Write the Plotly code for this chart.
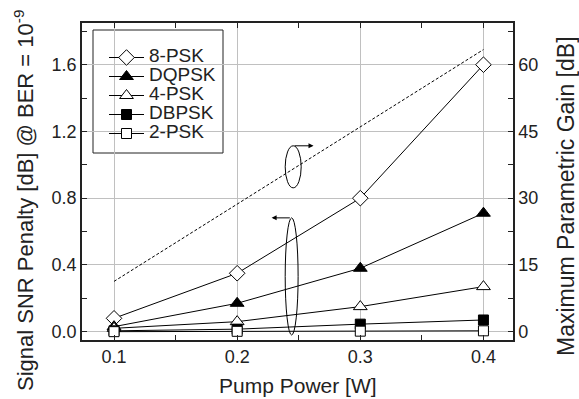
import plotly.graph_objects as go

pump_power = [0.1, 0.2, 0.3, 0.4]
series_names = ["8-PSK", "DQPSK", "4-PSK", "DBPSK", "2-PSK"]
psk8 = [0.08, 0.35, 0.80, 1.60]
dqpsk = [0.03, 0.17, 0.38, 0.71]
psk4 = [0.02, 0.06, 0.15, 0.27]
dbpsk = [0.005, 0.015, 0.045, 0.07]
psk2 = [0.0, 0.002, 0.003, 0.005]
max_gain = [11.3, 28.6, 46.0, 63.4]

symbols = ["diamond", "triangle-up", "triangle-up", "square", "square"]
fills = ["white", "black", "white", "black", "white"]
sizes = [12, 12, 12, 10, 10]
values = [psk8, dqpsk, psk4, dbpsk, psk2]

FONT = "Liberation Sans, Arial, sans-serif"
W, H = 579, 399
ML, MR, MT, MB = 82, 66, 23, 59
PW, PH = W - ML - MR, H - MT - MB


def px(x):
    return (x - ML) / PW


def py(y):
    return (H - MB - y) / PH


fig = go.Figure()

fig.add_trace(go.Scatter(x=pump_power, y=max_gain, mode="lines", yaxis="y2",
                         line=dict(color="black", width=1, dash="3px,2px"),
                         showlegend=False))

for name, vals, sym, fill, sz in zip(series_names, values, symbols, fills, sizes):
    fig.add_trace(go.Scatter(x=pump_power, y=vals,
                             name=f"<span style='font-size:19px'>{name}</span>",
                             mode="lines+markers",
                             line=dict(color="black", width=1),
                             marker=dict(symbol=sym, size=sz, color=fill,
                                         line=dict(color="black", width=1))))

# ellipses and arrows
fig.add_shape(type="circle", xref="x", yref="y", x0=0.239, x1=0.252, y0=0.862, y1=1.114,
              line=dict(color="black", width=1))
fig.add_shape(type="circle", xref="x", yref="y", x0=0.239, x1=0.2495, y0=-0.02, y1=0.682,
              line=dict(color="black", width=1))
fig.add_annotation(x=0.262, y=1.114, ax=0.2455, ay=1.114, xref="x", yref="y", axref="x", ayref="y",
                   text="", showarrow=True, arrowhead=2, arrowsize=1, arrowwidth=1, arrowcolor="black")
fig.add_annotation(x=0.228, y=0.682, ax=0.244, ay=0.682, xref="x", yref="y", axref="x", ayref="y",
                   text="", showarrow=True, arrowhead=2, arrowsize=1, arrowwidth=1, arrowcolor="black")

# legend frame
fig.add_shape(type="rect", xref="paper", yref="paper", x0=px(93), x1=px(223), y0=py(153), y1=py(30),
              line=dict(color="#222", width=1), fillcolor="white", layer="below")

# axis titles
fig.add_annotation(text="Pump Power [W]", xref="paper", yref="paper", x=px(298), y=py(385),
                   xanchor="center", yanchor="middle", showarrow=False,
                   font=dict(size=21, family=FONT, color="#222"))
fig.add_annotation(text="Signal SNR Penalty [dB] @ BER = 10<sup>-9</sup>", xref="paper", yref="paper",
                   x=px(24), y=py(201), xanchor="center", yanchor="middle", showarrow=False, textangle=-90,
                   font=dict(size=22, family=FONT, color="#222"))
fig.add_annotation(text="Maximum Parametric Gain [dB]", xref="paper", yref="paper",
                   x=px(566), y=py(196), xanchor="center", yanchor="middle", showarrow=False, textangle=-90,
                   font=dict(size=23, family=FONT, color="#222"))

axis_common = dict(showline=True, linecolor="#222", linewidth=1.5, ticks="inside", ticklen=5,
                   tickcolor="#222", tickfont=dict(size=18, color="#222", family=FONT),
                   zeroline=False)

fig.update_layout(
    width=W, height=H,
    margin=dict(l=ML, r=MR, t=MT, b=MB),
    plot_bgcolor="rgba(0,0,0,0)", paper_bgcolor="white",
    font=dict(family=FONT, color="#222"),
    xaxis=dict(range=[0.074, 0.424], tickvals=[0.1, 0.2, 0.3, 0.4], ticktext=["0.1", "0.2", "0.3", "0.4"],
               mirror="ticks", showgrid=True, gridcolor="#c0c0c0", gridwidth=1,
               minor=dict(tickvals=[0.15, 0.25, 0.35], ticks="inside", ticklen=5, tickcolor="#222"),
               **axis_common),
    yaxis=dict(range=[-0.05, 1.85], tickvals=[0.0, 0.4, 0.8, 1.2, 1.6], tickformat=".1f",
               showgrid=True, gridcolor="#c0c0c0", gridwidth=1,
               minor=dict(tickvals=[0.2, 0.6, 1.0, 1.4, 1.8], ticks="inside", ticklen=5, tickcolor="#222"),
               **axis_common),
    yaxis2=dict(range=[-1.875, 69.375], tickvals=[0, 15, 30, 45, 60], overlaying="y", side="right",
                showgrid=False,
                minor=dict(tickvals=[7.5, 22.5, 37.5, 52.5, 67.5], ticks="inside", ticklen=5, tickcolor="#222"),
                **axis_common),
    legend=dict(x=px(104), y=py(43), xanchor="left", yanchor="top", bgcolor="rgba(0,0,0,0)",
                borderwidth=0, font=dict(size=12, family=FONT),
                tracegroupgap=0, itemwidth=35),
    showlegend=True,
)

fig.write_html("out.html")
